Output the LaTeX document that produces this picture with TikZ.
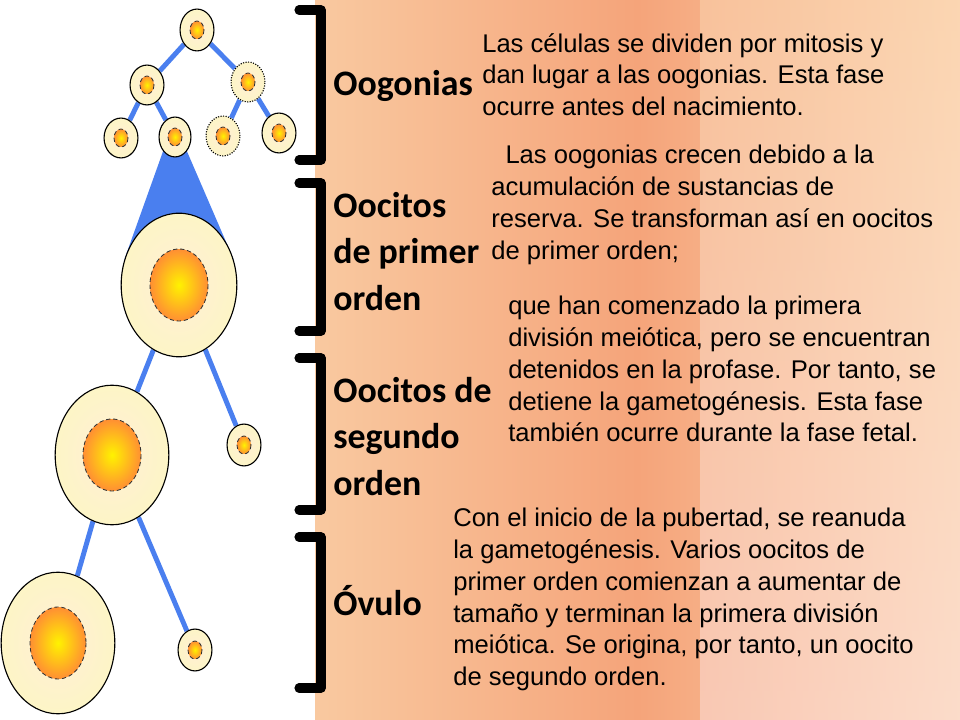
\documentclass[tikz,border=0pt]{standalone}
\usepackage{fontspec}
\setmainfont{Liberation Sans}
\newfontfamily\labfont{Carlito}
\usetikzlibrary{shapes.geometric,backgrounds}
\definecolor{cellfill}{HTML}{FDF5C6}
\definecolor{linkc}{HTML}{4A7FEF}
\tikzset{
  cell/.style={ellipse,draw=black,line width=0.8pt,inner sep=0pt,
    inner color=cellfill!60!orange!30,outer color=cellfill},
  link/.style={draw=linkc,line width=3.5pt},
  para/.style={anchor=north west,align=left,font=\fontsize{18.2}{22.6}\selectfont,inner sep=0pt},
  lab/.style={anchor=north west,align=left,font=\labfont\bfseries\fontsize{25.5}{33}\selectfont,inner sep=0pt},
  brk/.style={line width=6.5pt,line join=round,line cap=round},
}
\newcommand{\nuc}[3]{%
  \shade[inner color=yellow!90!orange,outer color=orange!90!red!80] (#1) ellipse [x radius=#2,y radius=#3];
  \draw[black!80,densely dashed,line width=0.6pt] (#1) ellipse [x radius=#2,y radius=#3];}
\begin{document}
\begin{tikzpicture}[x=0.025cm,y=-0.025cm]
\useasboundingbox (0,0) rectangle (960,720);
\shade[left color={rgb,255:red,249;green,201;blue,160},right color={rgb,255:red,251;green,214;blue,178},middle color={rgb,255:red,245;green,164;blue,122}] (315,0) rectangle (960,720);
\shade[top color={rgb,255:red,251;green,214;blue,178},bottom color={rgb,255:red,252;green,226;blue,226},opacity=0.5] (700,0) rectangle (960,720);
% cells
\node[cell,minimum width=34*0.709pt,minimum height=42*0.709pt] (c1) at (197,30) {};
\node[cell,minimum width=34*0.709pt,minimum height=40*0.709pt] (c2) at (147,85) {};
\node[cell,minimum width=34*0.709pt,minimum height=40*0.709pt,densely dotted] (c3) at (248,82) {};
\node[cell,minimum width=34*0.709pt,minimum height=40*0.709pt] (c4) at (121,138) {};
\node[cell,minimum width=32*0.709pt,minimum height=40*0.709pt] (c5) at (175,137) {};
\node[cell,minimum width=34*0.709pt,minimum height=40*0.709pt,densely dotted] (c6) at (223,136) {};
\node[cell,minimum width=34*0.709pt,minimum height=40*0.709pt] (c7) at (279,133) {};
\node[cell,minimum width=116*0.709pt,minimum height=144*0.709pt] (L1) at (179,285) {};
\node[cell,minimum width=114*0.709pt,minimum height=140*0.709pt] (L2) at (112,455) {};
\node[cell,minimum width=34*0.709pt,minimum height=42*0.709pt] (s1) at (244,445) {};
\node[cell,minimum width=114*0.709pt,minimum height=142*0.709pt] (L3) at (58,643) {};
\node[cell,minimum width=34*0.709pt,minimum height=42*0.709pt] (s2) at (195,650) {};
\foreach \c in {c1,c2,c3,c4,c5,c6,c7,s1,s2}{\nuc{\c.center}{7}{9}}
\nuc{L1.center}{29}{36}
\nuc{L2.center}{29}{36}
\nuc{L3.center}{28}{36}
\begin{scope}[on background layer]
\draw[link] (c1) -- (c2); \draw[link] (c1) -- (c3);
\draw[link] (c2) -- (c4); \draw[link] (c2) -- (c5);
\draw[link] (c3) -- (c6); \draw[link] (c3) -- (c7);
\fill[fill=linkc] (c5.-130) -- (c5.-50) -- (L1.25) -- (L1.155) -- cycle;
\draw[link] (L1) -- (L2); \draw[link] (L1) -- (s1);
\draw[link] (L2) -- (L3); \draw[link] (L2) -- (s2);
\end{scope}
% brackets
\coordinate (b1t) at (299,10); \coordinate (b1b) at (299,160);
\draw[brk] (b1t) -| (321,160) -- (b1b);
\coordinate (b2t) at (299,183); \coordinate (b2b) at (299,331);
\draw[brk] (b2t) -| (321,331) -- (b2b);
\coordinate (b3t) at (299,358); \coordinate (b3b) at (299,510);
\draw[brk] (b3t) -| (321,510) -- (b3b);
\coordinate (b4t) at (299,537); \coordinate (b4b) at (299,688);
\draw[brk] (b4t) -| (321,688) -- (b4b);
% labels
\node[lab] (l1) at (333,70) {Oogonias};
\node[lab] (l2) at (333,192) {Oocitos\\de primer\\orden};
\node[lab] (l3) at (333,377) {Oocitos de\\segundo\\orden};
\node[lab] (l4) at (333,585) {Óvulo};
% paragraphs
\node[para] (p1) at (482,33) {Las células se dividen por mitosis y\\dan lugar a las oogonias. Esta fase\\ocurre antes del nacimiento.};
\node[para] (p2) at (491,145) {\ \ Las oogonias crecen debido a la\\acumulación de sustancias de\\reserva. Se transforman así en oocitos\\de primer orden;};
\node[para] (p3) at (508,296) {que han comenzado la primera\\división meiótica, pero se encuentran\\detenidos en la profase. Por tanto, se\\detiene la gametogénesis. Esta fase\\también ocurre durante la fase fetal.};
\node[para] (p4) at (453,508) {Con el inicio de la pubertad, se reanuda\\la gametogénesis. Varios oocitos de\\primer orden comienzan a aumentar de\\tamaño y terminan la primera división\\meiótica. Se origina, por tanto, un oocito\\de segundo orden.};
\end{tikzpicture}
\end{document}
